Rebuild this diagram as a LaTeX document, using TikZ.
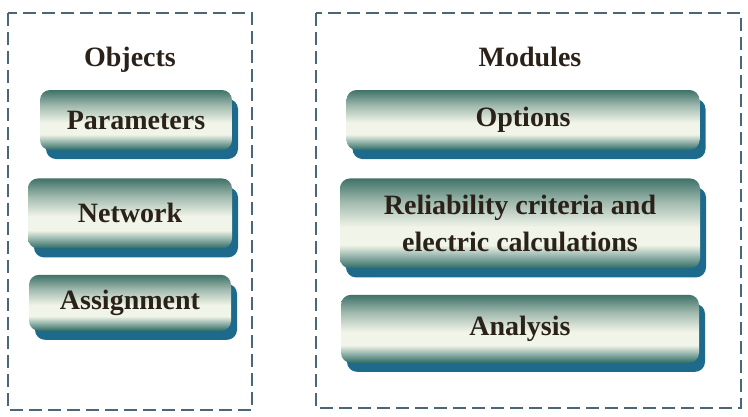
\documentclass[tikz,border=0pt]{standalone}
\usepackage{fontspec}
\setmainfont{Liberation Serif}
\usetikzlibrary{positioning,shadows}
\definecolor{btntop}{HTML}{3F7268}
\definecolor{btnmid}{HTML}{F1F4E8}
\definecolor{btnbot}{HTML}{2C6C66}
\definecolor{btnshade}{HTML}{1E6A8C}
\definecolor{btntext}{HTML}{2A2118}
\definecolor{framegray}{HTML}{4A6678}
\pgfdeclareverticalshading{btnshading}{100bp}{color(0bp)=(btnbot); color(25bp)=(btnbot);
  color(38bp)=(btnmid); color(48bp)=(btnmid); color(62bp)=(btntop!45!btnmid);
  color(75bp)=(btntop); color(100bp)=(btntop)}

\begin{document}
\begin{tikzpicture}[x=1pt,y=-1pt,node distance=26pt,
 frame/.style={draw=framegray,line width=2.5pt,dash pattern=on 13pt off 6pt},
 title/.style={font=\fontsize{28}{32}\selectfont\bfseries,text=btntext},
 btn/.style={rounded corners=10pt,inner sep=0pt,align=center,shading=btnshading,
   drop shadow={shadow xshift=6pt,shadow yshift=-9pt,fill=btnshade,opacity=1},
   font=\fontsize{28}{37}\selectfont\bfseries,text=btntext}]
\useasboundingbox (0,0) rectangle (748,416);
% containers
\draw[frame] (8,13) rectangle (252,410);
\draw[frame] (316,13) rectangle (741,408);
% left column
\node[title] (objects) at (130,60) {Objects};
\node[btn,minimum width=192pt,minimum height=60pt] (params) at (136,120) {Parameters};
\node[btn,minimum width=204pt,minimum height=70pt,below=28pt of params,xshift=-6pt] (network) {Network};
\node[btn,minimum width=202pt,minimum height=56pt,below=of network] (assign) {Assignment};
% right column
\node[title] (modules) at (530,57) {Modules};
\node[btn,minimum width=353pt,minimum height=60pt] (options) at (523,120) {Options};
\node[btn,minimum width=360pt,minimum height=90pt,below=28pt of options,xshift=-3pt] (relia) {Reliability criteria and\\electric calculations};
\node[btn,minimum width=358pt,minimum height=68pt,below=of relia] (analysis) {Analysis};
\end{tikzpicture}
\end{document}
